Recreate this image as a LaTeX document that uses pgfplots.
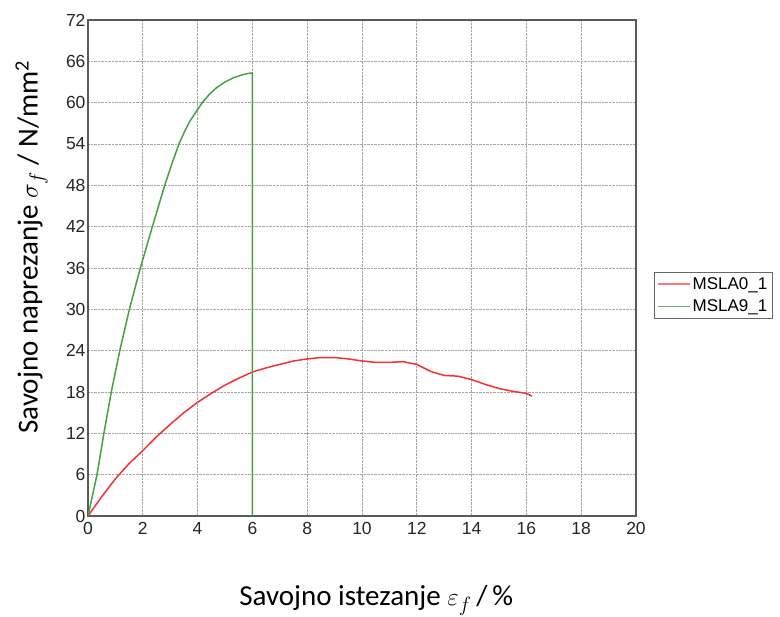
\documentclass[border=0pt]{standalone}
\usepackage{fontspec}
\usepackage{pgfplots}
\pgfplotsset{compat=1.18}
\setmainfont{Carlito}
\newfontfamily\arial{Liberation Sans}
\definecolor{redc}{RGB}{245,50,50}
\definecolor{greenc}{RGB}{70,160,70}
\definecolor{redl}{RGB}{250,120,120}
\definecolor{greenl}{RGB}{95,180,95}
\begin{document}
\begin{tikzpicture}
\useasboundingbox (0pt,0pt) rectangle (780pt,617pt);
\begin{axis}[at={(88pt,101pt)}, anchor=south west, scale only axis,
  width=548pt, height=496pt,
  xmin=0, xmax=20, ymin=0, ymax=72,
  xtick={0,2,...,20}, ytick={0,6,...,72},
  grid=major, grid style={densely dotted, black!35, line width=0.8pt},
  axis line style={draw=black!65, line width=1.3pt},
  major tick length=0pt,
  tick label style={font=\arial\fontsize{17.5}{17.5}\selectfont, text=black!85},
  /pgf/number format/assume math mode=true,
  xticklabel style={yshift=-3pt},
  yticklabel style={xshift=1pt},
  xlabel={Savojno istezanje $\varepsilon_f$\,/\,\%},
  ylabel={Savojno naprezanje $\sigma_f$ / N/mm\textsuperscript{2}},
  label style={font=\fontsize{29}{29}\selectfont},
  xlabel style={at={(axis description cs:0.526,-0.17)}, anchor=center},
  ylabel style={at={(axis description cs:-0.103,0.542)}, anchor=center, rotate=0},
  legend style={at={(rel axis cs:1.033,0.492)}, anchor=north west,
    font=\arial\fontsize{17}{17}\selectfont, draw=black!60, line width=0.8pt,
    inner sep=3pt, row sep=5pt},
  legend cell align=left,
]
\addplot[redc, line width=1.5pt,
  legend image code/.code={\draw[redl, line width=1.2pt] (0pt,0pt) -- (32pt,0pt);}] coordinates {
(0,0) (0.5,2.8) (1,5.4) (1.5,7.6) (2,9.5) (2.5,11.5) (3,13.3) (3.5,15.0) (4,16.5)
(4.5,17.8) (5,19.0) (5.5,20.0) (6,20.9) (6.5,21.5) (7,22.0) (7.5,22.5) (8,22.8)
(8.5,23.0) (9,23.0) (9.5,22.8) (10,22.5) (10.5,22.3) (11,22.3) (11.5,22.4) (12,22.0)
(12.5,21.0) (13,20.4) (13.5,20.3) (14,19.8) (14.5,19.1) (15,18.5) (15.5,18.1)
(16,17.8) (16.2,17.4)
};
\addlegendentry{MSLA0\_1}
\addplot[greenc, line width=1.5pt,
  legend image code/.code={\draw[greenl, line width=1.2pt] (0pt,0pt) -- (32pt,0pt);}] coordinates {
(0,0) (0.33,6) (0.58,12) (0.85,18) (1.16,24) (1.51,30) (1.91,36) (2.35,42)
(2.80,48) (3.05,51) (3.32,54) (3.5,55.6) (3.7,57.2) (3.95,58.7) (4.17,60) (4.45,61.3)
(4.7,62.2) (5.0,63.0) (5.3,63.6) (5.6,64.0) (5.85,64.25) (6.0,64.3) (6.0,0)
};
\addlegendentry{MSLA9\_1}
\end{axis}
\end{tikzpicture}
\end{document}
